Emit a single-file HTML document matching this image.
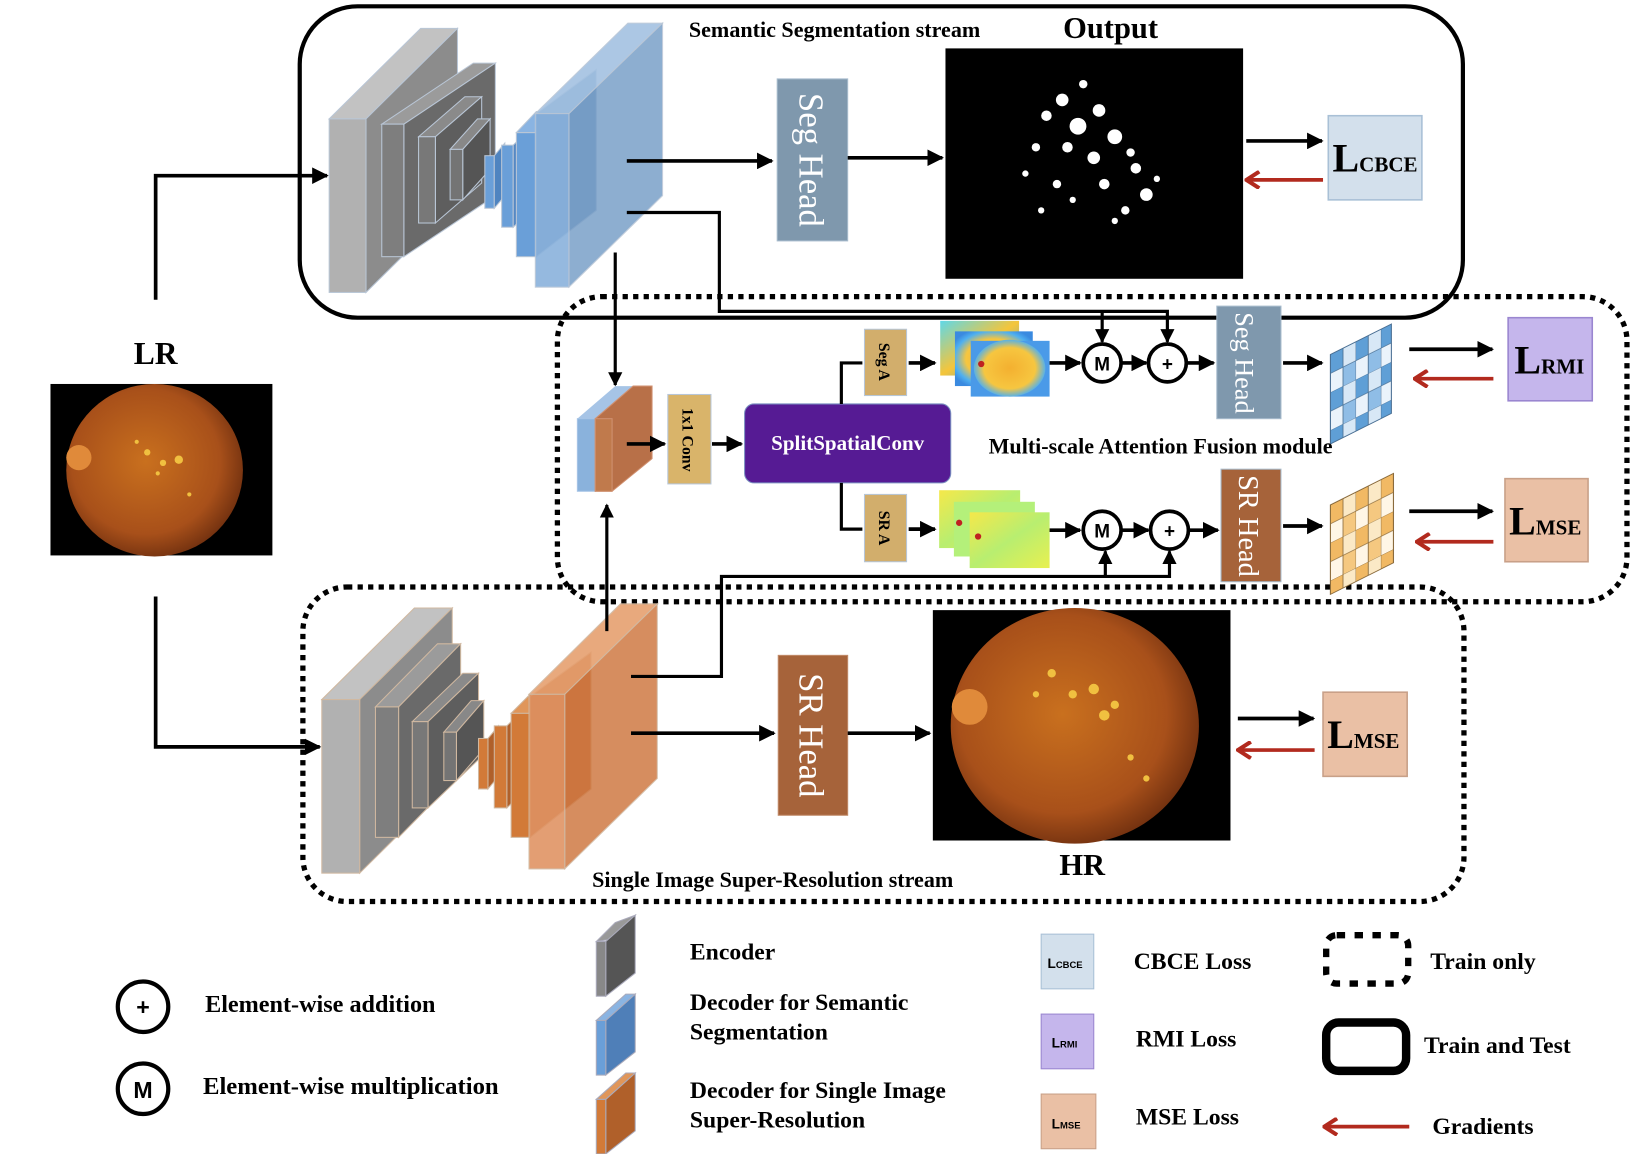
<!DOCTYPE html>
<html><head><meta charset="utf-8"><style>
html,body{margin:0;padding:0;background:#fff;}
svg{display:block;}
text{font-family:"Liberation Serif",serif;font-weight:bold;}
</style></head><body>
<svg width="1648" height="1154" viewBox="0 0 1567 1097" preserveAspectRatio="none" xmlns="http://www.w3.org/2000/svg">
<defs>
<marker id="a" viewBox="0 0 10 10" refX="9" refY="5" markerWidth="4.5" markerHeight="4.5" orient="auto"><path d="M0,0L10,5L0,10z" fill="#000"/></marker>
<marker id="r" viewBox="0 0 10 10" refX="8.5" refY="5" markerWidth="5" markerHeight="5" orient="auto"><path d="M2,0.5L9,5L2,9.5" fill="none" stroke="#b22a1e" stroke-width="2.2"/></marker>
<radialGradient id="ret" cx="0.45" cy="0.45" r="0.6"><stop offset="0" stop-color="#c9701e"/><stop offset="0.7" stop-color="#a8501a"/><stop offset="1" stop-color="#6a2c0e"/></radialGradient>
<linearGradient id="am1" x1="0" y1="0" x2="1" y2="1"><stop offset="0" stop-color="#5fd8e8"/><stop offset="0.5" stop-color="#f5c53a"/><stop offset="1" stop-color="#3ea0e8"/></linearGradient>
<radialGradient id="am2" cx="0.5" cy="0.5" r="0.6"><stop offset="0" stop-color="#f4b030"/><stop offset="0.6" stop-color="#f6c640"/><stop offset="0.85" stop-color="#4fb0f0"/><stop offset="1" stop-color="#3a8ae0"/></radialGradient>
<linearGradient id="am3" x1="0" y1="0" x2="1" y2="1"><stop offset="0" stop-color="#f5e84a"/><stop offset="0.5" stop-color="#b8ee70"/><stop offset="1" stop-color="#e8f050"/></linearGradient>
<pattern id="gb" width="24" height="36" patternUnits="userSpaceOnUse"><rect width="12" height="18" fill="#5f9fd6"/><rect x="12" width="12" height="18" fill="#d8e8f6"/><rect y="18" width="12" height="18" fill="#eaf3fb"/><rect x="12" y="18" width="12" height="18" fill="#8fbde6"/><path d="M0,0H24M0,18H24M0,0V36M12,0V36" stroke="#4a6f93" stroke-width="0.8" fill="none"/></pattern>
<pattern id="go" width="24" height="36" patternUnits="userSpaceOnUse"><rect width="12" height="18" fill="#f1b964"/><rect x="12" width="12" height="18" fill="#fbe9c6"/><rect y="18" width="12" height="18" fill="#fff6e6"/><rect x="12" y="18" width="12" height="18" fill="#f5c880"/><path d="M0,0H24M0,18H24M0,0V36M12,0V36" stroke="#8a6b3d" stroke-width="0.8" fill="none"/></pattern>
</defs>

<!-- frames -->
<rect x="285" y="6" width="1106" height="296" rx="55" fill="none" stroke="#000" stroke-width="4"/>
<rect x="530" y="282" width="1017" height="290" rx="42" fill="#fff" fill-opacity="0" stroke="#000" stroke-width="5" stroke-dasharray="5,5"/>
<rect x="288" y="558" width="1104" height="299" rx="42" fill="none" stroke="#000" stroke-width="5" stroke-dasharray="5,5"/>

<!-- LR -->
<text x="148" y="346" font-size="30" text-anchor="middle">LR</text>
<rect x="48" y="365" width="211" height="163" fill="#000"/>
<ellipse cx="147" cy="447" rx="84" ry="82" fill="url(#ret)"/>
<circle cx="75" cy="435" r="12" fill="#e08a3a"/>
<g fill="#f0c040"><circle cx="140" cy="430" r="3"/><circle cx="155" cy="440" r="3"/><circle cx="170" cy="437" r="4"/><circle cx="130" cy="420" r="2"/><circle cx="180" cy="470" r="2"/><circle cx="150" cy="450" r="2"/></g>
<path d="M148,285V167H311" fill="none" stroke="#000" stroke-width="3.5" marker-end="url(#a)"/>
<path d="M148,567V710H304" fill="none" stroke="#000" stroke-width="3.5" marker-end="url(#a)"/>

<!-- top encoder/decoder -->
<g stroke="#b9c6d6" stroke-width="1">
<polygon points="313,113 400,27 435,27 348,113" fill="#c2c2c2"/><polygon points="348,113 435,27 435,192 348,278" fill="#8c8c8c"/><rect x="313" y="113" width="35" height="165" fill="#b1b1b1"/>
<polygon points="363,118 450,60 471,60 384,118" fill="#9b9b9b"/><polygon points="384,118 471,60 471,186 384,244" fill="#6a6a6a"/><rect x="363" y="118" width="21" height="126" fill="#7e7e7e"/>
<polygon points="398,130 442,92 458,92 414,130" fill="#8a8a8a"/><polygon points="414,130 458,92 458,174 414,212" fill="#5e5e5e"/><rect x="398" y="130" width="16" height="82" fill="#787878"/>
<polygon points="428,142 454,113 466,113 440,142" fill="#888"/><polygon points="440,142 466,113 466,161 440,190" fill="#555"/><rect x="428" y="142" width="12" height="48" fill="#747474"/>
<rect x="461" y="148" width="9" height="50" fill="#6a9fd8"/><polygon points="470,148 480,136 480,186 470,198" fill="#4f84c0"/>
<rect x="477" y="138" width="11" height="78" fill="#6a9fd8"/><polygon points="488,138 500,126 500,204 488,216" fill="#5588c4"/>
<rect x="491" y="126" width="19" height="118" fill="#6a9fd8"/><polygon points="491,126 510,106 530,106 510,126" fill="#8ab4e2"/>
<polygon points="510,108 567,66 567,200 510,244" fill="#5b87b8"/>
<polygon points="509,108 597,22 630,22 541,108" fill="#a4c2e2" opacity="0.9"/>
<polygon points="541,108 630,22 630,186 541,273" fill="#7aa0c8" opacity="0.85"/>
<rect x="509" y="108" width="32" height="165" fill="#8ab2dc" opacity="0.9"/>
</g>

<!-- bottom encoder/decoder -->
<g stroke="#d0b8a0" stroke-width="1">
<polygon points="306,665 394,578 430,578 342,665" fill="#c2c2c2"/><polygon points="342,665 430,578 430,743 342,830" fill="#8c8c8c"/><rect x="306" y="665" width="36" height="165" fill="#b1b1b1"/>
<polygon points="357,672 416,612 438,612 379,672" fill="#9b9b9b"/><polygon points="379,672 438,612 438,736 379,796" fill="#6a6a6a"/><rect x="357" y="672" width="22" height="124" fill="#7e7e7e"/>
<polygon points="392,686 440,640 455,640 407,686" fill="#8a8a8a"/><polygon points="407,686 455,640 455,722 407,768" fill="#5e5e5e"/><rect x="392" y="686" width="15" height="82" fill="#787878"/>
<polygon points="422,696 448,666 460,666 434,696" fill="#888"/><polygon points="434,696 460,666 460,712 434,742" fill="#555"/><rect x="422" y="696" width="12" height="46" fill="#747474"/>
<rect x="455" y="702" width="9" height="48" fill="#d27a38"/><polygon points="464,702 474,690 474,738 464,750" fill="#b0602a"/>
<rect x="470" y="690" width="12" height="78" fill="#d27a38"/><polygon points="482,690 494,678 494,756 482,768" fill="#b0602a"/>
<rect x="486" y="678" width="18" height="118" fill="#d27a38"/><polygon points="486,678 504,660 522,660 504,678" fill="#e0965a"/>
<polygon points="504,662 562,620 562,750 504,796" fill="#b85e24"/>
<polygon points="503,660 590,574 625,574 537,660" fill="#e6a070" opacity="0.9"/>
<polygon points="537,660 625,574 625,740 537,826" fill="#d07a44" opacity="0.85"/>
<rect x="503" y="660" width="34" height="166" fill="#e09464" opacity="0.9"/>
</g>

<!-- top row -->
<text x="655" y="35" font-size="21">Semantic Segmentation stream</text>
<text x="1056" y="36" font-size="29" text-anchor="middle">Output</text>
<path d="M596,153H734" stroke="#000" stroke-width="3.5" marker-end="url(#a)"/>
<rect x="739" y="75" width="67" height="154" fill="#7f98ad" stroke="#a8bccd"/>
<text transform="translate(760,152) rotate(90)" font-size="33" fill="#fff" text-anchor="middle" style="font-weight:normal">Seg Head</text>
<path d="M806,150H896" stroke="#000" stroke-width="3.5" marker-end="url(#a)"/>
<rect x="899" y="46" width="283" height="219" fill="#000"/>
<g fill="#fff">
<circle cx="1010" cy="95" r="6"/><circle cx="995" cy="110" r="5"/><circle cx="1025" cy="120" r="8"/><circle cx="1045" cy="105" r="6"/><circle cx="1060" cy="130" r="7"/><circle cx="1040" cy="150" r="6"/><circle cx="1080" cy="160" r="5"/><circle cx="1090" cy="185" r="6"/><circle cx="1070" cy="200" r="4"/><circle cx="985" cy="140" r="4"/><circle cx="975" cy="165" r="3"/><circle cx="1005" cy="175" r="4"/><circle cx="1020" cy="190" r="3"/><circle cx="1050" cy="175" r="5"/><circle cx="1100" cy="170" r="3"/><circle cx="1030" cy="80" r="4"/><circle cx="990" cy="200" r="3"/><circle cx="1060" cy="210" r="3"/><circle cx="1015" cy="140" r="5"/><circle cx="1075" cy="145" r="4"/></g>
<path d="M1185,134H1257" stroke="#000" stroke-width="3.5" marker-end="url(#a)"/>
<path d="M1258,171H1186" stroke="#b22a1e" stroke-width="3.5" marker-end="url(#r)"/>
<rect x="1263" y="110" width="89" height="80" fill="#d3e0ec" stroke="#a9c0d6" stroke-width="1.5"/>
<text x="1267" y="163" font-size="38">L<tspan font-size="20">CBCE</tspan></text>

<!-- connectors to fusion -->
<path d="M596,202H684V296H1110V325" fill="none" stroke="#000" stroke-width="3" marker-end="url(#a)"/>
<path d="M1048,296V325" stroke="#000" stroke-width="3" marker-end="url(#a)"/>
<path d="M585,240V366" stroke="#000" stroke-width="3" marker-end="url(#a)"/>
<path d="M577,600V480" stroke="#000" stroke-width="3" marker-end="url(#a)"/>
<path d="M600,643H686V548H1112V524" fill="none" stroke="#000" stroke-width="3" marker-end="url(#a)"/>
<path d="M1051,548V524" stroke="#000" stroke-width="3" marker-end="url(#a)"/>

<!-- fusion module -->
<polygon points="549,398 585,367 620,367 584,398" fill="#a6c4e6"/>
<rect x="549" y="398" width="17" height="69" fill="#8ab2dc" stroke="#a6c4e6"/>
<polygon points="566,398 602,367 620,367 620,436 582,467 566,467" fill="#b87048" stroke="#d09070"/>
<rect x="566" y="398" width="16" height="69" fill="#c07a4c" stroke="#d09070"/>
<path d="M596,422H632" stroke="#000" stroke-width="3.5" marker-end="url(#a)"/>
<rect x="635" y="375" width="41" height="85" fill="#d9b46a" stroke="#b7c6d8"/>
<text transform="translate(649,418) rotate(90)" font-size="15" text-anchor="middle">1x1 Conv</text>
<path d="M677,422H705" stroke="#000" stroke-width="3.5" marker-end="url(#a)"/>
<rect x="708" y="384" width="196" height="75" rx="9" fill="#561b94" stroke="#7a8fc0"/>
<text x="806" y="428" font-size="20" fill="#fff" text-anchor="middle">SplitSpatialConv</text>
<path d="M800,384V345H820" fill="none" stroke="#000" stroke-width="3"/>
<path d="M800,459V503H820" fill="none" stroke="#000" stroke-width="3"/>
<rect x="822" y="313" width="40" height="63" fill="#d2ae6c" stroke="#b7c6d8"/>
<text transform="translate(836,344) rotate(90)" font-size="15" text-anchor="middle">Seg A</text>
<rect x="822" y="470" width="40" height="64" fill="#d2ae6c" stroke="#b7c6d8"/>
<text transform="translate(836,502) rotate(90)" font-size="15" text-anchor="middle">SR A</text>
<path d="M864,345H889" stroke="#000" stroke-width="3.5" marker-end="url(#a)"/>
<path d="M864,503H889" stroke="#000" stroke-width="3.5" marker-end="url(#a)"/>
<rect x="894" y="305" width="75" height="52" fill="url(#am1)"/>
<rect x="908" y="315" width="74" height="52" fill="url(#am2)"/>
<rect x="923" y="324" width="75" height="53" fill="#4a9ae8"/><ellipse cx="960" cy="350" rx="34" ry="27" fill="url(#am2)"/><circle cx="933" cy="346" r="3" fill="#c02020"/>
<rect x="893" y="466" width="77" height="55" fill="url(#am3)"/>
<rect x="907" y="477" width="77" height="52" fill="#b4f07a"/>
<rect x="922" y="487" width="76" height="53" fill="url(#am3)"/><circle cx="930" cy="510" r="3" fill="#c02020"/><circle cx="912" cy="497" r="3" fill="#c02020"/>
<path d="M998,345H1027" stroke="#000" stroke-width="3.5" marker-end="url(#a)"/>
<path d="M998,504H1027" stroke="#000" stroke-width="3.5" marker-end="url(#a)"/>
<g fill="#fff" stroke="#000" stroke-width="3.5"><circle cx="1048" cy="345" r="18"/><circle cx="1110" cy="345" r="18"/><circle cx="1048" cy="504" r="18"/><circle cx="1112" cy="504" r="18"/></g>
<g font-size="18" text-anchor="middle"><text x="1048" y="352" style="font-family:'Liberation Sans',sans-serif">M</text><text x="1048" y="511" style="font-family:'Liberation Sans',sans-serif">M</text><text x="1110" y="352" style="font-family:'Liberation Sans',sans-serif">+</text><text x="1112" y="511" style="font-family:'Liberation Sans',sans-serif">+</text></g>
<path d="M1066,345H1090" stroke="#000" stroke-width="3.5" marker-end="url(#a)"/>
<path d="M1066,504H1092" stroke="#000" stroke-width="3.5" marker-end="url(#a)"/>
<path d="M1128,345H1154" stroke="#000" stroke-width="3.5" marker-end="url(#a)"/>
<path d="M1130,504H1158" stroke="#000" stroke-width="3.5" marker-end="url(#a)"/>
<rect x="1157" y="291" width="61" height="107" fill="#7f98ad" stroke="#a8bccd"/>
<text transform="translate(1175,345) rotate(90)" font-size="25" fill="#fff" text-anchor="middle" style="font-weight:normal">Seg Head</text>
<rect x="1161" y="446" width="57" height="107" fill="#a6633a" stroke="#a8bccd"/>
<text transform="translate(1178,500) rotate(90)" font-size="27" fill="#fff" text-anchor="middle" style="font-weight:normal">SR Head</text>
<path d="M1220,345H1257" stroke="#000" stroke-width="3.5" marker-end="url(#a)"/>
<path d="M1220,500H1257" stroke="#000" stroke-width="3.5" marker-end="url(#a)"/>
<g transform="matrix(1,-0.5,0,1,1265,337)"><rect x="0" y="0" width="58" height="85" fill="url(#gb)" stroke="#4a6f93"/></g>
<g transform="matrix(1,-0.5,0,1,1265,480)"><rect x="0" y="0" width="60" height="85" fill="url(#go)" stroke="#8a6b3d"/></g>
<text x="940" y="431" font-size="21">Multi-scale Attention Fusion module</text>
<path d="M1340,332H1419" stroke="#000" stroke-width="3.5" marker-end="url(#a)"/>
<path d="M1420,360H1346" stroke="#b22a1e" stroke-width="3.5" marker-end="url(#r)"/>
<path d="M1340,486H1419" stroke="#000" stroke-width="3.5" marker-end="url(#a)"/>
<path d="M1420,515H1348" stroke="#b22a1e" stroke-width="3.5" marker-end="url(#r)"/>
<rect x="1434" y="302" width="80" height="79" fill="#c5b6ec" stroke="#9a86d0" stroke-width="1.5"/>
<text x="1440" y="355" font-size="38">L<tspan font-size="20">RMI</tspan></text>
<rect x="1431" y="455" width="79" height="79" fill="#eac0a5" stroke="#c8a088" stroke-width="1.5"/>
<text x="1435" y="508" font-size="38">L<tspan font-size="20">MSE</tspan></text>

<!-- bottom row -->
<path d="M600,697H736" stroke="#000" stroke-width="3.5" marker-end="url(#a)"/>
<rect x="740" y="623" width="66" height="152" fill="#a6633a" stroke="#c08a68"/>
<text transform="translate(760,699) rotate(90)" font-size="33" fill="#fff" text-anchor="middle" style="font-weight:normal">SR Head</text>
<path d="M806,697H884" stroke="#000" stroke-width="3.5" marker-end="url(#a)"/>
<rect x="887" y="580" width="283" height="219" fill="#000"/>
<ellipse cx="1022" cy="690" rx="118" ry="112" fill="url(#ret)"/>
<circle cx="922" cy="672" r="17" fill="#e08a3a"/>
<g fill="#f0c040"><circle cx="1000" cy="640" r="4"/><circle cx="1020" cy="660" r="4"/><circle cx="1040" cy="655" r="5"/><circle cx="1060" cy="670" r="4"/><circle cx="1050" cy="680" r="5"/><circle cx="1075" cy="720" r="3"/><circle cx="1090" cy="740" r="3"/><circle cx="985" cy="660" r="3"/></g>
<text x="1029" y="832" font-size="29" text-anchor="middle">HR</text>
<text x="563" y="843" font-size="21">Single Image Super-Resolution stream</text>
<path d="M1177,683H1249" stroke="#000" stroke-width="3.5" marker-end="url(#a)"/>
<path d="M1250,713H1178" stroke="#b22a1e" stroke-width="3.5" marker-end="url(#r)"/>
<rect x="1258" y="658" width="80" height="80" fill="#eac0a5" stroke="#c8a088" stroke-width="1.5"/>
<text x="1262" y="711" font-size="38">L<tspan font-size="20">MSE</tspan></text>

<!-- legend -->
<g fill="#fff" stroke="#000" stroke-width="4"><circle cx="136" cy="957" r="24"/><circle cx="136" cy="1035" r="24"/></g>
<text x="136" y="965" font-size="22" text-anchor="middle" style="font-family:'Liberation Sans',sans-serif">+</text>
<text x="136" y="1044" font-size="22" text-anchor="middle" style="font-family:'Liberation Sans',sans-serif">M</text>
<text x="195" y="962" font-size="23">Element-wise addition</text>
<text x="193" y="1040" font-size="23.5">Element-wise multiplication</text>
<g stroke="#aab" stroke-width="1">
<polygon points="567,895 585,877 604,870 586,892" fill="#999"/><polygon points="576,895 604,870 604,925 576,947" fill="#555"/><rect x="567" y="895" width="9" height="52" fill="#888"/>
<polygon points="576,970 604,945 604,1000 576,1022" fill="#4f7fb8"/><rect x="567" y="970" width="9" height="52" fill="#6a9fd8"/><polygon points="567,970 595,945 604,945 576,970" fill="#8ab4e2"/>
<polygon points="576,1045 604,1020 604,1075 576,1097" fill="#b0602a"/><rect x="567" y="1045" width="9" height="52" fill="#d27a38"/><polygon points="567,1045 595,1020 604,1020 576,1045" fill="#e0965a"/>
</g>
<text x="656" y="912" font-size="22.5">Encoder</text>
<text x="656" y="960" font-size="22.5">Decoder for Semantic</text>
<text x="656" y="988" font-size="22.5">Segmentation</text>
<text x="656" y="1044" font-size="22.5">Decoder for Single Image</text>
<text x="656" y="1072" font-size="22.5">Super-Resolution</text>
<rect x="990" y="888" width="50" height="52" fill="#d3e0ec" stroke="#a9c0d6"/>
<text x="996" y="920" font-size="13" style="font-family:'Liberation Sans',sans-serif">L<tspan font-size="9">CBCE</tspan></text>
<rect x="990" y="964" width="50" height="52" fill="#c5b6ec" stroke="#9a86d0"/>
<text x="1000" y="996" font-size="13" style="font-family:'Liberation Sans',sans-serif">L<tspan font-size="9">RMI</tspan></text>
<rect x="990" y="1040" width="52" height="52" fill="#eac0a5" stroke="#c8a088"/>
<text x="1000" y="1073" font-size="13" style="font-family:'Liberation Sans',sans-serif">L<tspan font-size="9">MSE</tspan></text>
<text x="1078" y="921" font-size="22.5">CBCE Loss</text>
<text x="1080" y="995" font-size="22.5">RMI Loss</text>
<text x="1080" y="1069" font-size="22.5">MSE Loss</text>
<rect x="1261" y="889" width="78" height="46" rx="10" fill="none" stroke="#000" stroke-width="6" stroke-dasharray="8,9"/>
<rect x="1261" y="972" width="76" height="46" rx="12" fill="none" stroke="#000" stroke-width="8"/>
<path d="M1340,1071H1260" stroke="#b22a1e" stroke-width="3.5" marker-end="url(#r)"/>
<text x="1360" y="921" font-size="22.5">Train only</text>
<text x="1354" y="1001" font-size="22.5">Train and Test</text>
<text x="1362" y="1078" font-size="22.5">Gradients</text>
</svg>
</body></html>
